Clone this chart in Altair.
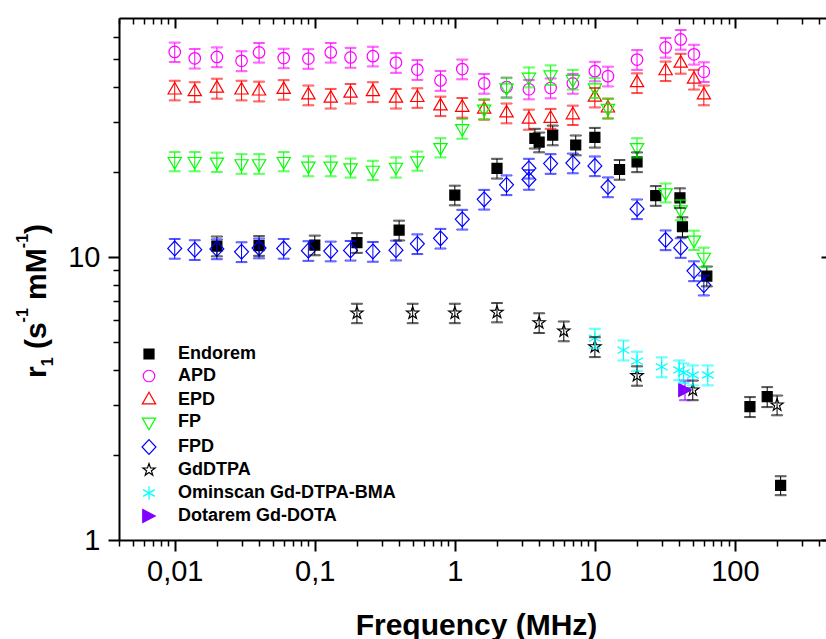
import altair as alt
import pandas as pd

FONT = "Liberation Sans"

series_order = ["Endorem", "APD", "EPD", "FP", "FPD", "GdDTPA",
                "Ominscan Gd-DTPA-BMA", "Dotarem Gd-DOTA"]

# ---- data (frequency in MHz, r1 in s^-1 mM^-1, error) ----
endorem_f = [0.02, 0.04, 0.1, 0.2, 0.4, 1.0, 2.0, 3.73, 4.0, 5.0, 7.3, 10.0, 15.0, 20.0,
             27.2, 40.5, 42.2, 63.0, 128.0, 170.0, 212.0]
endorem_r = [10.94, 10.98, 11.03, 11.25, 12.45, 16.56, 20.6, 26.3, 25.5, 27.0, 24.9, 26.5,
             20.4, 21.7, 16.5, 16.2, 12.8, 8.57, 2.96, 3.21, 1.56]
endorem_e = [0.88, 0.88, 0.88, 0.9, 1.0, 1.32, 1.65, 2.1, 2.04, 2.16, 2.0, 2.12,
             1.63, 1.74, 1.32, 1.3, 1.02, 0.69, 0.24, 0.26, 0.12]

apd_f = [0.01, 0.0139, 0.02, 0.03, 0.04, 0.06, 0.09, 0.13, 0.18, 0.26, 0.38, 0.54, 0.79,
         1.13, 1.62, 2.34, 3.38, 4.83, 6.96, 10.0, 12.4, 20.0, 32.0, 41.0, 51.0, 60.0]
apd_r = [53.1, 50.4, 51.0, 49.4, 52.9, 50.5, 50.3, 52.9, 50.8, 51.3, 48.7, 46.0, 42.1,
         46.2, 41.1, 39.9, 39.2, 39.6, 41.1, 45.4, 43.6, 49.9, 55.1, 58.8, 52.1, 45.2]
apd_e = [4.2, 4.0, 4.1, 4.0, 4.2, 4.0, 4.0, 4.2, 4.1, 4.1, 3.9, 3.7, 3.4,
         3.7, 3.3, 3.2, 3.1, 3.2, 3.3, 3.6, 3.5, 4.0, 4.4, 4.7, 4.2, 3.6]

epd_f = [0.01, 0.0139, 0.02, 0.03, 0.04, 0.06, 0.09, 0.13, 0.18, 0.26, 0.38, 0.54, 0.79,
         1.13, 1.62, 2.34, 3.38, 4.83, 6.96, 10.0, 12.4, 20.0, 32.0, 41.0, 51.0, 60.0]
epd_r = [38.9, 38.4, 39.5, 38.9, 38.6, 39.1, 37.4, 36.4, 37.9, 38.4, 36.4, 36.6, 34.2,
         33.8, 33.3, 32.3, 30.7, 30.9, 31.8, 36.7, 33.6, 41.3, 45.5, 48.4, 42.5, 37.4]
epd_e = [3.1, 3.1, 3.2, 3.1, 3.1, 3.1, 3.0, 2.9, 3.0, 3.1, 2.9, 2.9, 2.7,
         2.7, 2.7, 2.6, 2.5, 2.5, 2.5, 2.9, 2.7, 3.3, 3.6, 3.9, 3.4, 3.0]

fp_f = [0.01, 0.0139, 0.02, 0.03, 0.04, 0.06, 0.09, 0.13, 0.18, 0.26, 0.38, 0.54, 0.79,
        1.13, 1.62, 2.34, 3.38, 4.83, 6.96, 10.0, 12.4, 20.0, 32.0, 41.0, 51.0, 60.0]
fp_r = [21.8, 21.8, 21.7, 21.4, 21.4, 21.8, 21.0, 21.0, 20.7, 20.3, 20.8, 21.9, 24.4,
        28.5, 33.4, 39.7, 43.3, 44.1, 42.5, 39.7, 33.6, 24.4, 16.9, 14.7, 11.5, 10.0]
fp_e = [1.7, 1.7, 1.7, 1.7, 1.7, 1.7, 1.7, 1.7, 1.6, 1.6, 1.7, 1.7, 1.9,
        2.3, 2.7, 3.2, 3.5, 3.5, 3.4, 3.2, 2.7, 1.9, 1.3, 1.2, 0.9, 0.8]

fpd_f = [0.01, 0.0139, 0.02, 0.03, 0.04, 0.06, 0.09, 0.13, 0.18, 0.26, 0.38, 0.54, 0.79,
         1.13, 1.62, 2.34, 3.38, 3.38, 4.83, 6.96, 10.0, 12.4, 20.0, 32.0, 41.0, 51.0, 60.0]
fpd_r = [10.73, 10.62, 10.69, 10.44, 10.76, 10.73, 10.54, 10.50, 10.56, 10.47, 10.58,
         11.14, 11.65, 13.6, 16.0, 18.0, 20.6, 18.8, 21.4, 21.5, 21.0, 17.7, 14.8, 11.5,
         10.8, 8.94, 7.96]
fpd_e = [0.86, 0.85, 0.86, 0.84, 0.86, 0.86, 0.84, 0.84, 0.84, 0.84, 0.85, 0.89, 0.93,
         1.09, 1.28, 1.44, 1.65, 1.5, 1.71, 1.72, 1.68, 1.42, 1.18, 0.92, 0.86, 0.72, 0.64]

gddtpa_f = [0.2, 0.5, 1.0, 2.0, 4.0, 6.0, 10.0, 20.0, 50.0, 200.0]
gddtpa_r = [6.34, 6.34, 6.34, 6.38, 5.86, 5.48, 4.82, 3.81, 3.39, 3.0]
gddtpa_e = [0.5, 0.5, 0.5, 0.5, 0.47, 0.44, 0.39, 0.3, 0.27, 0.24]

omniscan_f = [10.0, 16.0, 20.0, 30.0, 40.0, 43.0, 50.0, 64.0]
omniscan_r = [5.17, 4.69, 4.29, 4.09, 3.99, 3.90, 3.83, 3.83]
omniscan_e = [0.41, 0.38, 0.34, 0.33, 0.32, 0.31, 0.31, 0.31]

dotarem_f = [44.0]
dotarem_r = [3.39]
dotarem_e = [0.27]

# ---- tick values ----
x_major_ticks = [0.01, 0.1, 1, 10, 100]
x_minor_ticks = [k * 10.0 ** e for e in range(-3, 3) for k in range(2, 10)
                 if 0.004 <= k * 10.0 ** e <= 447]
y_major_ticks = [1, 10]
y_minor_ticks = [2, 3, 4, 5, 6, 7, 8, 9, 20, 30, 40, 50, 60]

# ---- y-axis title pieces (r1 (s-1 mM-1) with sub/superscripts) ----
ytitle_text = ["r", "1", "(s", "-1", "mM", "-1", ")"]
ytitle_size = [30, 16, 30, 16, 30, 16, 30]
ytitle_along = [360, 348.3, 331.1, 304.4, 281.9, 230.2, 216]
ytitle_base = [-73, -66, -73, -91, -73, -91, -73]

# ---- styles ----
stroke_colors = ["#000000", "#FF00FF", "#FF0000", "#00FF00", "#0000FF", "#000000",
                 "#00FFFF", "#8000FF"]
fill_colors = ["#000000", "transparent", "transparent", "transparent", "transparent",
               "transparent", "transparent", "#8000FF"]
SYM_SIZE = 256  # unit of the paths below = 8 px
square = "M-0.625,-0.625L0.625,-0.625L0.625,0.625L-0.625,0.625Z"
circle = "M-0.72,0A0.72,0.72,0,1,1,0.72,0A0.72,0.72,0,1,1,-0.72,0Z"
tri_up = "M0,-0.96L0.83,0.48L-0.83,0.48Z"
tri_down = "M0,0.96L0.83,-0.48L-0.83,-0.48Z"
diamond = "M0,-0.93L0.87,0L0,0.93L-0.87,0Z"
star = ("M0,-0.81L0.19,-0.262L0.77,-0.25L0.308,0.1L0.476,0.655L0,0.324L-0.476,0.655"
        "L-0.308,0.1L-0.77,-0.25L-0.19,-0.262Z")
asterisk = "M0,-0.85L0,0.85M-0.74,-0.42L0.74,0.42M-0.74,0.42L0.74,-0.42"
tri_right = "M0.78,0L-0.78,-0.82L-0.78,0.82Z"
shapes = [square, circle, tri_up, tri_down, diamond, star, asterisk, tri_right]

rows = []
for name, fs, rs, es in [
    ("Endorem", endorem_f, endorem_r, endorem_e),
    ("APD", apd_f, apd_r, apd_e),
    ("EPD", epd_f, epd_r, epd_e),
    ("FP", fp_f, fp_r, fp_e),
    ("FPD", fpd_f, fpd_r, fpd_e),
    ("GdDTPA", gddtpa_f, gddtpa_r, gddtpa_e),
    ("Ominscan Gd-DTPA-BMA", omniscan_f, omniscan_r, omniscan_e),
    ("Dotarem Gd-DOTA", dotarem_f, dotarem_r, dotarem_e),
]:
    for f, r, e in zip(fs, rs, es):
        rows.append({"series": name, "f": f, "r": r, "lo": r - e, "hi": r + e})
df = pd.DataFrame(rows)

W, H = 707, 522
x_scale = alt.Scale(type="log", domain=[0.004, 447], nice=False)
y_scale = alt.Scale(type="log", domain=[1, 70], nice=False)
stroke_scale = alt.Scale(domain=series_order, range=stroke_colors)

common_axis = dict(grid=False, tickColor="black", domainColor="black",
                   labelColor="black", titleColor="black")

x_major_axis = alt.Axis(orient="bottom", values=x_major_ticks,
                        labelExpr="replace(format(datum.value, '~g'), '.', ',')",
                        tickSize=11, tickWidth=2, domainWidth=2,
                        labelFont=FONT, labelFontSize=29, labelPadding=6,
                        labelFlush=False, labelOverlap=False,
                        title="Frequency (MHz)", titleFont=FONT, titleFontSize=30,
                        titleFontWeight="bold", titleX=357, titleY=94,
                        titleBaseline="alphabetic", titleAlign="center", **common_axis)
x_minor_axis = alt.Axis(orient="bottom", values=x_minor_ticks, labels=False,
                        tickSize=6, tickWidth=1.5, domain=False, title=None, **common_axis)
x_top_major = alt.Axis(orient="bottom", offset=-H, values=x_major_ticks, labels=False,
                       tickSize=10, tickWidth=2, domainWidth=2, title=None, **common_axis)
x_top_minor = alt.Axis(orient="bottom", offset=-H, values=x_minor_ticks, labels=False,
                       tickSize=6, tickWidth=1.5, domain=False, title=None, **common_axis)

y_major_axis = alt.Axis(orient="left", values=y_major_ticks,
                        labelExpr="format(datum.value, '~g')",
                        tickSize=11, tickWidth=2, domainWidth=2,
                        labelFont=FONT, labelFontSize=29, labelPadding=8,
                        labelBaseline="middle", labelFlush=False, labelOverlap=False,
                        title=None, **common_axis)
y_minor_axis = alt.Axis(orient="left", values=y_minor_ticks, labels=False,
                        tickSize=6, tickWidth=1.5, domain=False, title=None, **common_axis)
y_right_axis = alt.Axis(orient="left", offset=-W, values=y_major_ticks, labels=False,
                        tickSize=5, tickWidth=2, domain=False, title=None, **common_axis)

base = alt.Chart(df)

legend = alt.Legend(orient="none", legendX=21, legendY=327, title=None,
                    labelFont=FONT, labelFontSize=18, labelFontWeight="bold",
                    labelColor="black", labelOffset=20, labelLimit=0, rowPadding=4,
                    padding=0, symbolSize=SYM_SIZE, symbolStrokeWidth=1.2)

points = base.mark_point(strokeWidth=1.2, opacity=1, size=SYM_SIZE).encode(
    x=alt.X("f:Q", scale=x_scale, axis=x_major_axis),
    y=alt.Y("r:Q", scale=y_scale, axis=y_major_axis),
    stroke=alt.Stroke("series:N", scale=stroke_scale, legend=legend),
    fill=alt.Fill("series:N", scale=alt.Scale(domain=series_order, range=fill_colors),
                  legend=legend),
    shape=alt.Shape("series:N", scale=alt.Scale(domain=series_order, range=shapes),
                    legend=legend),
)

rules = base.mark_rule(strokeWidth=1).encode(
    x=alt.X("f:Q", scale=x_scale, axis=x_minor_axis),
    y=alt.Y("lo:Q", scale=y_scale, axis=y_minor_axis),
    y2="hi:Q",
    stroke=alt.Stroke("series:N", scale=stroke_scale, legend=None),
)
caps_hi = base.mark_tick(orient="horizontal", size=11, thickness=1).encode(
    x=alt.X("f:Q", scale=x_scale, axis=x_top_major),
    y=alt.Y("hi:Q", scale=y_scale, axis=y_right_axis),
    stroke=alt.Stroke("series:N", scale=stroke_scale, legend=None),
    fill=alt.value("transparent"),
)
caps_lo = base.mark_tick(orient="horizontal", size=11, thickness=1).encode(
    x=alt.X("f:Q", scale=x_scale, axis=x_top_minor),
    y=alt.Y("lo:Q", scale=y_scale, axis=None),
    stroke=alt.Stroke("series:N", scale=stroke_scale, legend=None),
    fill=alt.value("transparent"),
)

title_layers = []
for t, fs, along, bx in zip(ytitle_text, ytitle_size, ytitle_along, ytitle_base):
    title_layers.append(
        alt.Chart(pd.DataFrame({"t": [t]})).mark_text(
            angle=270, align="left", baseline="alphabetic", font=FONT,
            fontSize=fs, fontWeight="bold", color="black",
        ).encode(text="t:N", x=alt.value(bx), y=alt.value(along))
    )

chart = alt.layer(points, rules, caps_hi, caps_lo, *title_layers).resolve_axis(
    x="independent", y="independent"
).properties(
    width=W, height=H,
    autosize=alt.AutoSizeParams(type="none"),
    padding={"left": 119, "top": 18, "right": 0, "bottom": 99},
    background="white",
).configure_view(stroke=None)

chart.save("out.html", embed_options={"renderer": "svg", "actions": False})
